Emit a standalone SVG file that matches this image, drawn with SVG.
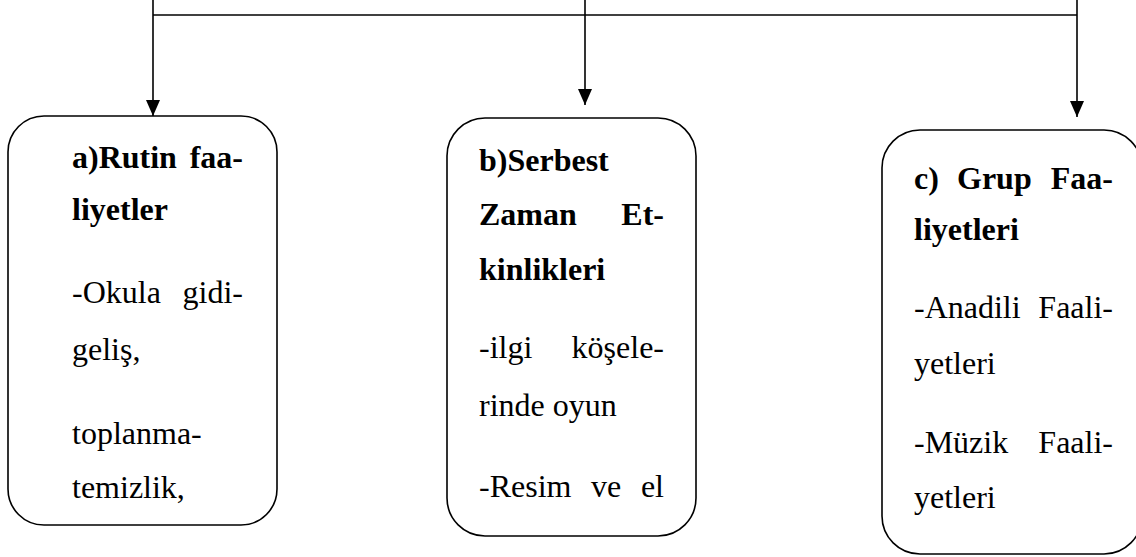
<svg xmlns="http://www.w3.org/2000/svg" width="1136" height="557" viewBox="0 0 1136 557">
<defs>
<style>
.box{fill:#fff;stroke:#000;stroke-width:1.6}
.con{fill:none;stroke:#000;stroke-width:1.6}
.b{font-family:"Liberation Serif","Times New Roman",serif;font-size:32px;font-weight:bold;fill:#000}
.r{font-family:"Liberation Serif","Times New Roman",serif;font-size:32px;fill:#000}
.e{text-anchor:end}
</style>
<marker id="ah" viewBox="0 0 16 14" refX="16" refY="7" markerWidth="16" markerHeight="14" markerUnits="userSpaceOnUse" orient="auto">
<path d="M0,0 L16,7 L0,14 z" fill="#000"/>
</marker>
</defs>
<rect width="1136" height="557" fill="#fff"/>
<g id="connectors">
<path class="con" d="M153,15 H1077"/>
<path class="con" d="M153,0 V116" marker-end="url(#ah)"/>
<path class="con" d="M585,0 V105" marker-end="url(#ah)"/>
<path class="con" d="M1077,0 V117" marker-end="url(#ah)"/>
</g>
<g id="node-a">
<rect class="box" x="8" y="116" width="269" height="409" rx="36" ry="36"/>
<text class="b" x="72" y="168">a)Rutin</text>
<text class="b e" x="243" y="168">faa-</text>
<text class="b" x="72" y="220">liyetler</text>
<text class="r" x="72" y="303">-Okula</text>
<text class="r e" x="243" y="303">gidi-</text>
<text class="r" x="72" y="360">geliş,</text>
<text class="r" x="72" y="444">toplanma-</text>
<text class="r" x="72" y="498">temizlik,</text>
</g>
<g id="node-b">
<rect class="box" x="447" y="118" width="249" height="418" rx="38" ry="38"/>
<text class="b" x="479" y="171">b)Serbest</text>
<text class="b" x="479" y="225">Zaman</text>
<text class="b e" x="664" y="225">Et-</text>
<text class="b" x="479" y="280">kinlikleri</text>
<text class="r" x="479" y="358">-ilgi</text>
<text class="r e" x="664" y="358">köşele-</text>
<text class="r" x="479" y="416">rinde oyun</text>
<text class="r" x="479" y="497">-Resim</text>
<text class="r" x="591" y="497">ve</text>
<text class="r e" x="664" y="497">el</text>
</g>
<g id="node-c">
<rect class="box" x="882" y="130" width="260" height="424" rx="38" ry="38"/>
<text class="b" x="914" y="189">c)</text>
<text class="b" x="957" y="189">Grup</text>
<text class="b e" x="1113" y="189">Faa-</text>
<text class="b" x="914" y="240">liyetleri</text>
<text class="r" x="914" y="318">-Anadili</text>
<text class="r e" x="1113" y="318">Faali-</text>
<text class="r" x="914" y="374">yetleri</text>
<text class="r" x="914" y="453">-Müzik</text>
<text class="r e" x="1113" y="453">Faali-</text>
<text class="r" x="914" y="508">yetleri</text>
</g>
</svg>
